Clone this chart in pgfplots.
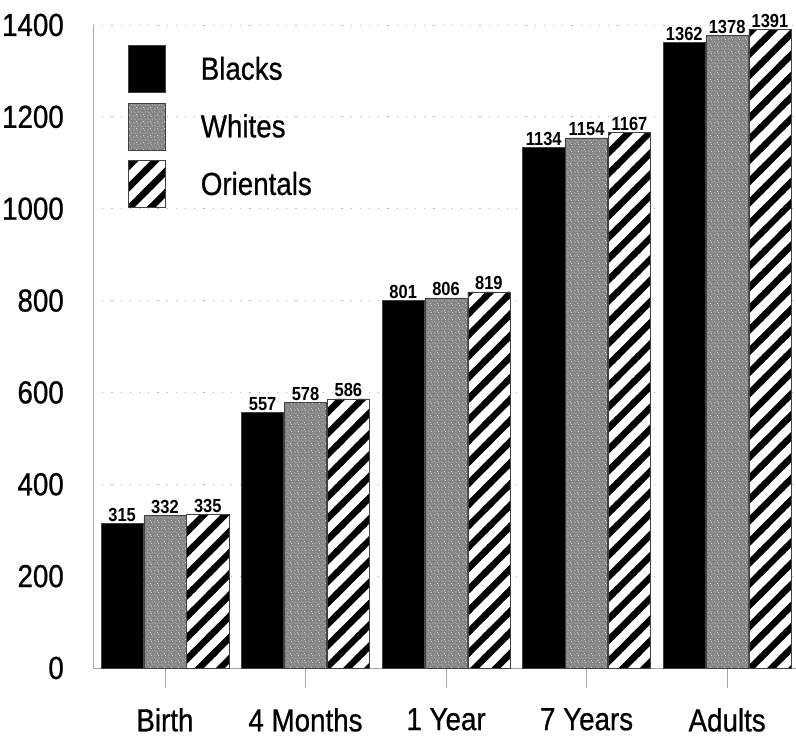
\documentclass[border=0pt]{standalone}
\usepackage{fontspec}
\setmainfont{Liberation Sans}[FakeStretch=0.87, FakeBold=0.7]
\newfontfamily\valfont{Liberation Sans}[FakeStretch=0.87]
\usepackage{pgfplots}
\pgfplotsset{compat=1.18}
\usetikzlibrary{patterns}
\definecolor{whitegray}{RGB}{132,132,132}
\pgfdeclarepatternformonly{thickstripes}{\pgfqpoint{-1bp}{-1bp}}{\pgfqpoint{22.2bp}{22.2bp}}{\pgfqpoint{21.2bp}{21.2bp}}{%
  \pgfsetlinewidth{6.5bp}%
  \pgfpathmoveto{\pgfqpoint{-5bp}{-5bp}}\pgfpathlineto{\pgfqpoint{26.2bp}{26.2bp}}%
  \pgfpathmoveto{\pgfqpoint{-5bp}{16.2bp}}\pgfpathlineto{\pgfqpoint{5bp}{26.2bp}}%
  \pgfpathmoveto{\pgfqpoint{16.2bp}{-5bp}}\pgfpathlineto{\pgfqpoint{26.2bp}{5bp}}%
  \pgfusepath{stroke}}
\pgfdeclarepatternformonly{speckle}{\pgfqpoint{0bp}{0bp}}{\pgfqpoint{7bp}{7bp}}{\pgfqpoint{7bp}{7bp}}{%
  \pgfpathrectangle{\pgfqpoint{0.5bp}{0.8bp}}{\pgfqpoint{1bp}{1bp}}%
  \pgfpathrectangle{\pgfqpoint{3.6bp}{2.1bp}}{\pgfqpoint{0.9bp}{1.2bp}}%
  \pgfpathrectangle{\pgfqpoint{5.4bp}{5.3bp}}{\pgfqpoint{1.1bp}{0.8bp}}%
  \pgfpathrectangle{\pgfqpoint{1.9bp}{4.6bp}}{\pgfqpoint{0.8bp}{0.9bp}}%
  \pgfpathrectangle{\pgfqpoint{4.8bp}{0.2bp}}{\pgfqpoint{0.7bp}{0.7bp}}%
  \pgfpathrectangle{\pgfqpoint{0.3bp}{6.0bp}}{\pgfqpoint{0.7bp}{0.6bp}}%
  \pgfusepath{fill}}
\begin{document}
\begin{tikzpicture}
\useasboundingbox (-93bp,-72bp) rectangle (703bp,668bp);
\begin{axis}[
  scale only axis, width=703bp, height=643bp,
  xmin=-0.512, xmax=4.49, ymin=0, ymax=1400,
  ybar=0.7bp, bar width=0.3,
  axis x line=bottom, axis y line=left,
  axis line style={gray!70, -, line width=0.8bp},
  ytick={0,200,...,1400},
  xtick={0,1,2,3,4},
  xticklabels={Birth,4 Months,1 Year,7 Years,Adults},
  ymajorgrids, grid style={gray!60, line width=0.9bp, dash pattern=on 1.2bp off 8bp},
  ytick style={draw=none},
  xtick style={gray!70, line width=0.8bp},
  tick align=outside,
  major tick length=20bp,
  /pgf/number format/.cd, 1000 sep={}, assume math mode=true, /pgfplots/.cd,
  ticklabel style={font=\fontsize{32}{34}\selectfont},
  yticklabel style={inner xsep=0pt, xshift=-9bp},
  xticklabel style={inner ysep=0pt, yshift=-20bp},
  nodes near coords,
  every node near coord/.append style={font=\valfont\bfseries\fontsize{19}{19}\selectfont, inner sep=1.5bp, anchor=south},
  legend style={at={(0.0498,0.969)}, anchor=north west, draw=none, fill=none,
    inner sep=0pt, column sep=35bp, row sep=10bp,
    nodes={inner sep=0pt}, font=\fontsize{32}{34}\selectfont},
  legend cell align=left,
  legend image code/.code={\draw[#1] (0bp,-23.5bp) rectangle (37bp,23.5bp);},
]
\addplot[draw=black!75, line width=0.6bp, fill=black] coordinates {(0,315) (1,557) (2,801) (3,1134) (4,1362)};
\addplot[draw=black!75, line width=0.6bp, fill=whitegray, postaction={pattern=speckle, pattern color=gray!35}] coordinates {(0,332) (1,578) (2,806) (3,1154) (4,1378)};
\addplot[draw=black!75, line width=0.6bp, fill=white, postaction={pattern=thickstripes, pattern color=black}] coordinates {(0,335) (1,586) (2,819) (3,1167) (4,1391)};
\legend{Blacks,Whites,Orientals}
\end{axis}
\end{tikzpicture}
\end{document}
